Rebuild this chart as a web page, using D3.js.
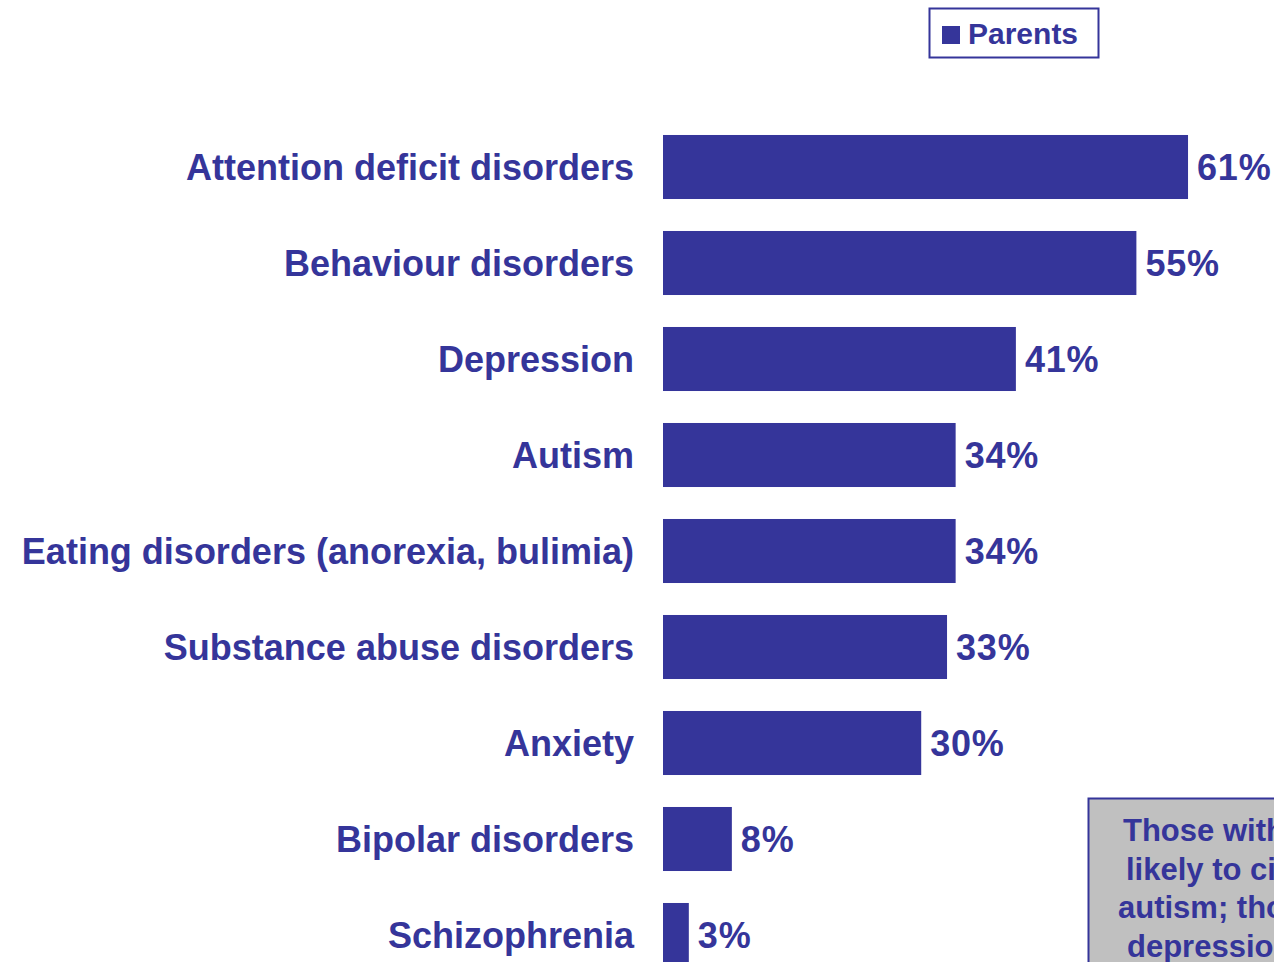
<!DOCTYPE html>
<html><head><meta charset="utf-8">
<script src="https://cdn.jsdelivr.net/npm/d3@7"></script>
<style>body{margin:0;background:#fff;overflow:hidden}svg{display:block}</style>
</head><body>
<svg id="c" width="1274" height="962"></svg>
<script>
const categories = ["Attention deficit disorders","Behaviour disorders","Depression","Autism","Eating disorders (anorexia, bulimia)","Substance abuse disorders","Anxiety","Bipolar disorders","Schizophrenia"];
const values = [61,55,41,34,34,33,30,8,3];
const seriesName = "Parents";
const calloutLines = ["Those with children","likely to cite","autism; those","depression"];

const color = "#35359A";
const font = "'Liberation Sans', Arial, sans-serif";
const svg = d3.select("#c");

const x = d3.scaleLinear().domain([0,100]).range([663, 663+860.7]);
const y = d3.scaleBand().domain(categories).range([119, 119+96*9]).paddingInner(0.333).paddingOuter(0.1665);

svg.selectAll("rect.bar").data(values).join("rect")
  .attr("class","bar")
  .attr("x", x(0))
  .attr("y", (d,i)=>y(categories[i]))
  .attr("width", d=>x(d)-x(0))
  .attr("height", y.bandwidth())
  .attr("fill", color);

svg.selectAll("text.val").data(values).join("text")
  .attr("class","val")
  .attr("x", d=>x(d)+9)
  .attr("y", (d,i)=>y(categories[i])+y.bandwidth()/2)
  .attr("dy","0.36em")
  .attr("font-family",font).attr("font-weight","bold").attr("font-size",36)
  .attr("letter-spacing",0.8)
  .attr("fill",color)
  .text(d=>d+"%");

svg.selectAll("text.cat").data(categories).join("text")
  .attr("class","cat")
  .attr("x", 634)
  .attr("y", d=>y(d)+y.bandwidth()/2)
  .attr("dy","0.36em")
  .attr("text-anchor","end")
  .attr("font-family",font).attr("font-weight","bold").attr("font-size",36)
  .attr("fill",color)
  .text(d=>d);

// legend
const lg = svg.append("g");
lg.append("rect").attr("x",929.5).attr("y",8.5).attr("width",169).attr("height",49)
  .attr("fill","#fff").attr("stroke",color).attr("stroke-width",2);
lg.append("rect").attr("x",942).attr("y",26).attr("width",18).attr("height",18).attr("fill",color);
lg.append("text").attr("x",968).attr("y",44)
  .attr("font-family",font).attr("font-weight","bold").attr("font-size",30)
  .attr("fill",color).text(seriesName);

// callout
const cg = svg.append("g");
cg.append("rect").attr("x",1088.5).attr("y",798.5).attr("width",260).attr("height",200)
  .attr("fill","#C0C0C0").attr("stroke",color).attr("stroke-width",2);
const lineX = [1123,1126,1118,1127];
cg.selectAll("text").data(calloutLines).join("text")
  .attr("x",(d,i)=>lineX[i])
  .attr("y",(d,i)=>841+i*38.5)
  .attr("font-family",font).attr("font-weight","bold").attr("font-size",31)
  .attr("fill",color).text(d=>d);
</script>
</body></html>
